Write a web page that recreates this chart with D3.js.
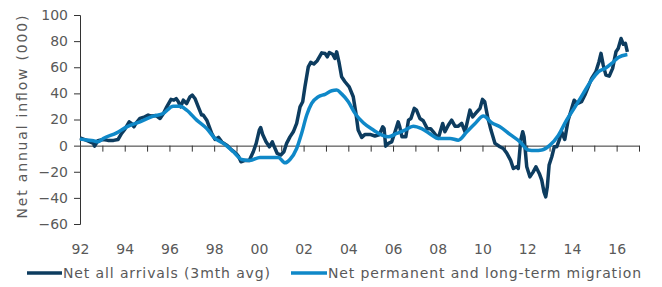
<!DOCTYPE html>
<html>
<head>
<meta charset="utf-8">
<script src="https://cdn.jsdelivr.net/npm/d3@7"></script>
<style>
  body { margin: 0; background: #fff; }
  text { font-family: "DejaVu Sans", sans-serif; fill: #595959; }
</style>
</head>
<body>
<div id="chart"></div>
<script>
// Chart values

var arrivalsYears = [1992.0, 1992.3, 1992.6, 1992.65, 1992.8, 1993.04, 1993.25, 1993.5, 1993.7, 1993.86, 1994.0, 1994.2, 1994.3, 1994.41, 1994.5, 1994.68, 1994.9, 1995.05, 1995.2, 1995.4, 1995.58, 1995.73, 1995.88, 1996.07, 1996.2, 1996.3, 1996.4, 1996.5, 1996.62, 1996.77, 1996.92, 1997.02, 1997.14, 1997.29, 1997.44, 1997.51, 1997.67, 1997.77, 1997.89, 1998.04, 1998.19, 1998.34, 1998.56, 1998.78, 1998.98, 1999.08, 1999.2, 1999.38, 1999.57, 1999.75, 1999.88, 2000.02, 2000.08, 2000.17, 2000.32, 2000.47, 2000.6, 2000.69, 2000.82, 2000.98, 2001.12, 2001.24, 2001.39, 2001.54, 2001.69, 2001.84, 2001.96, 2002.06, 2002.21, 2002.32, 2002.46, 2002.61, 2002.81, 2002.96, 2003.06, 2003.15, 2003.3, 2003.4, 2003.48, 2003.58, 2003.7, 2003.85, 2004.04, 2004.22, 2004.34, 2004.44, 2004.6, 2004.75, 2004.97, 2005.19, 2005.38, 2005.54, 2005.6, 2005.67, 2005.79, 2005.94, 2006.09, 2006.23, 2006.3, 2006.4, 2006.57, 2006.69, 2006.8, 2006.95, 2007.05, 2007.2, 2007.35, 2007.53, 2007.68, 2007.8, 2008.02, 2008.22, 2008.32, 2008.47, 2008.62, 2008.77, 2008.92, 2009.07, 2009.22, 2009.44, 2009.56, 2009.71, 2009.89, 2010.0, 2010.1, 2010.23, 2010.38, 2010.56, 2010.78, 2010.93, 2011.08, 2011.26, 2011.38, 2011.53, 2011.6, 2011.71, 2011.8, 2011.86, 2011.98, 2012.12, 2012.27, 2012.39, 2012.54, 2012.65, 2012.75, 2012.83, 2012.9, 2012.98, 2013.1, 2013.21, 2013.32, 2013.43, 2013.54, 2013.68, 2013.83, 2013.99, 2014.1, 2014.24, 2014.43, 2014.58, 2014.73, 2014.88, 2015.07, 2015.21, 2015.3, 2015.4, 2015.52, 2015.67, 2015.82, 2015.97, 2016.07, 2016.2, 2016.3, 2016.39, 2016.48];
var arrivalsValues = [6, 4, 1.7, -0.4, 3.7, 4.7, 4, 4, 4.7, 9.3, 12.4, 18.2, 17, 14.4, 17, 20.8, 22, 23.4, 22.6, 23, 20.8, 24.6, 29.7, 35.4, 34.8, 36, 33.6, 29.7, 34.8, 32.2, 37.4, 38.7, 36.1, 29.7, 23.4, 23.4, 19.5, 14.9, 9.3, 4.7, 6.3, 2.9, 0.4, -3.3, -6, -8, -12.4, -11.3, -11.3, -4.7, 1.7, 11.9, 13.9, 8.5, 2.9, -0.9, 2.9, -0.9, -6, -7.2, -4.7, 1.7, 6.7, 10.6, 17, 29.7, 33.6, 45, 60.3, 63.7, 62.5, 65, 71, 70.5, 68, 71.3, 70, 66.8, 71.8, 64.2, 52.7, 48.9, 45, 37.4, 24.7, 11.9, 6.3, 8.6, 8.6, 7.4, 8.2, 14.4, 13, -0.4, 1.7, 2.9, 10.6, 18.2, 14.4, 6.7, 6.7, 19.5, 20.8, 28.5, 27.2, 20.8, 19, 13, 13, 10.6, 5.5, 17, 10.6, 15.6, 19.5, 14.9, 14.9, 17, 10.6, 27.2, 22, 25, 28.5, 35.4, 33.6, 22, 11.9, 1.7, -0.9, -2.2, -5.5, -11.3, -17.5, -16.2, -17.5, 4.2, 10.6, 6.7, -16.2, -23.9, -20.1, -16.2, -21.3, -26.4, -35.4, -39.2, -31.5, -14.9, -8.5, -0.9, -0.9, 4.2, 10.6, 4.7, 19.5, 28.5, 34.8, 32.2, 33.6, 38.7, 45, 51.5, 56.5, 64.2, 70.6, 61.6, 54, 53.2, 59.1, 71.8, 74.3, 82, 77.6, 78.4, 71.8];

var migrationYears = [1992.0, 1992.3, 1992.6, 1992.8, 1993.04, 1993.64, 1994.09, 1994.68, 1995.28, 1995.72, 1996.17, 1996.47, 1996.77, 1997.22, 1997.67, 1998.04, 1998.41, 1998.86, 1999.23, 1999.6, 2000.05, 2000.5, 2000.87, 2001.17, 2001.39, 2001.69, 2001.91, 2002.14, 2002.36, 2002.66, 2002.96, 2003.26, 2003.48, 2003.7, 2004.0, 2004.3, 2004.67, 2005.12, 2005.49, 2005.79, 2006.16, 2006.53, 2006.9, 2007.28, 2007.72, 2008.02, 2008.55, 2008.92, 2009.3, 2009.67, 2010.04, 2010.41, 2010.78, 2011.23, 2011.68, 2012.05, 2012.35, 2012.65, 2013.02, 2013.39, 2013.76, 2014.14, 2014.51, 2014.88, 2015.18, 2015.48, 2015.78, 2016.07, 2016.48];
var migrationValues = [5, 4.3, 3.7, 2.9, 5.5, 9.8, 14.4, 18.2, 22.6, 24.6, 30.2, 30.2, 27.2, 19.5, 13, 5.5, 1.7, -4.7, -10.6, -11.3, -9, -9, -9, -13.2, -10.6, -2.2, 9.3, 23.4, 32.3, 37.4, 39.3, 42, 42.5, 39.6, 33.6, 24.7, 17.5, 11.9, 8.2, 6.7, 9.3, 11.9, 14.9, 13, 8.2, 5.5, 5.5, 4.2, 10.6, 17, 22.6, 17.5, 14.4, 8.6, 2.9, -3.3, -3.7, -3.3, 0.4, 7.8, 19.5, 29.7, 40, 50.2, 56.5, 59.1, 62.9, 67.5, 69.8];

var yTicks = [100, 80, 60, 40, 20, 0, -20, -40, -60];
var xLabelYears = [1992, 1994, 1996, 1998, 2000, 2002, 2004, 2006, 2008, 2010, 2012, 2014, 2016];
var seriesNames = ["Net all arrivals (3mth avg)", "Net permanent and long-term migration"];
var seriesColors = ["#0d3c5f", "#0f88c8"];

var width = 662, height = 287;

var x = d3.scaleLinear().domain([1992, 2017]).range([80, 639]);
var y = d3.scaleLinear().domain([-60, 100]).range([224, 15]);

var svg = d3.select("#chart").append("svg")
    .attr("width", width)
    .attr("height", height);

// Y axis
var yAxis = svg.append("g")
    .attr("transform", "translate(" + x(1992) + ",0)")
    .call(d3.axisLeft(y).tickValues(yTicks).tickSize(6).tickPadding(6));
yAxis.selectAll("path, line").attr("stroke", "#333");
yAxis.selectAll("text").style("font-size", "14px").attr("fill", "#595959");

// Zero line with yearly ticks
var yearTicks = d3.range(1992, 2018);
var zeroAxis = svg.append("g")
    .attr("transform", "translate(0," + y(0) + ")")
    .call(d3.axisBottom(x).tickValues(yearTicks).tickSize(6).tickSizeOuter(0).tickFormat(""));
zeroAxis.selectAll("path, line").attr("stroke", "#333");

// Year labels along the bottom
var labelAxis = svg.append("g")
    .attr("transform", "translate(0,241)")
    .call(d3.axisBottom(x).tickValues(xLabelYears).tickSize(0).tickPadding(3)
      .tickFormat(function(d) { return String(d).slice(2); }));
labelAxis.select(".domain").remove();
labelAxis.selectAll("text").style("font-size", "14px").attr("fill", "#595959");

// Y title
svg.append("text")
    .attr("transform", "translate(27,117) rotate(-90)")
    .attr("text-anchor", "middle")
    .attr("textLength", 203)
    .attr("lengthAdjust", "spacing")
    .style("font-size", "14px")
    .text("Net annual inflow (000)");

// Lines
var line = d3.line()
    .x(function(d) { return x(d[0]); })
    .y(function(d) { return y(d[1]); });

var arrivals = d3.zip(arrivalsYears, arrivalsValues);
var migration = d3.zip(migrationYears, migrationValues);

svg.append("path")
    .datum(arrivals)
    .attr("fill", "none")
    .attr("stroke", seriesColors[0])
    .attr("stroke-width", 3.5)
    .attr("stroke-linejoin", "round")
    .attr("d", line);

svg.append("path")
    .datum(migration)
    .attr("fill", "none")
    .attr("stroke", seriesColors[1])
    .attr("stroke-width", 3.5)
    .attr("stroke-linejoin", "round")
    .attr("d", line.curve(d3.curveMonotoneX));

// Legend
var legendItems = [
  {x1: 27, x2: 62, tx: 63, len: 207},
  {x1: 291, x2: 327, tx: 328, len: 313}
];
var legend = svg.append("g").attr("class", "legend");
legendItems.forEach(function(item, i) {
  legend.append("line")
      .attr("x1", item.x1).attr("x2", item.x2)
      .attr("y1", 273).attr("y2", 273)
      .attr("stroke", seriesColors[i])
      .attr("stroke-width", 3.5);
  legend.append("text")
      .attr("x", item.tx)
      .attr("y", 278)
      .attr("textLength", item.len)
      .attr("lengthAdjust", "spacing")
      .style("font-size", "14px")
      .text(seriesNames[i]);
});
</script>
</body>
</html>
